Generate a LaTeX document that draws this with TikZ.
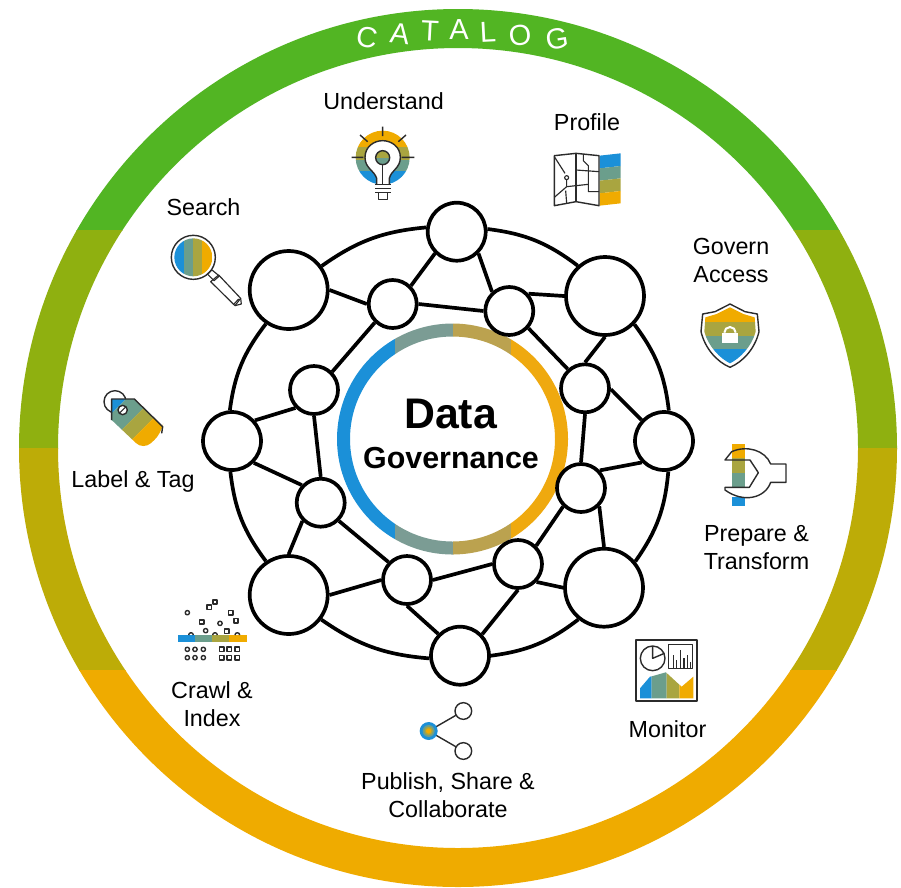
\documentclass[tikz,border=0pt]{standalone}
\usepackage{fontspec}
\setmainfont{Liberation Sans}
\definecolor{ringa}{HTML}{52B523}
\definecolor{ringb}{HTML}{8FB010}
\definecolor{ringc}{HTML}{BDAC07}
\definecolor{ringd}{HTML}{EFAB00}
\definecolor{cblue}{HTML}{1B90D8}
\definecolor{cteal}{HTML}{7B9C94}
\definecolor{colive}{HTML}{BBA24F}
\definecolor{corange}{HTML}{EFA90F}
\definecolor{iblue}{HTML}{1B90D8}
\definecolor{iteal}{HTML}{6B9E8C}
\definecolor{iolive}{HTML}{A9A540}
\definecolor{iorange}{HTML}{F0AB00}
\definecolor{iline}{HTML}{2B2B2B}
\tikzset{
  bignode/.style={circle,draw=black,fill=white,line width=1.3mm,minimum size=78pt,inner sep=0pt},
  midnode/.style={circle,draw=black,fill=white,line width=1.3mm,minimum size=58pt,inner sep=0pt},
  smallnode/.style={circle,draw=black,fill=white,line width=1.3mm,minimum size=48pt,inner sep=0pt},
  link/.style={draw=black,line width=1.3mm},
  lbl/.style={font=\fontsize{23.3}{28}\selectfont,align=center,text=black,inner sep=0pt},
  catletter/.style={font=\fontsize{29}{29}\selectfont,text=white,inner sep=0pt},
  icon/.style={draw=iline,line width=1.4pt,line join=round},
  thinicon/.style={draw=iline,line width=1.15pt,line join=round},
}
\newcommand{\ringband}[3]{\begin{scope}\clip (0,#1) rectangle (901,#2);
  \fill[#3,even odd rule] (458,448) circle[radius=439] (458,448) circle[radius=400];\end{scope}}
\newcommand{\coreband}[3]{\begin{scope}\clip (#1,300) rectangle (#2,580);
  \fill[#3,even odd rule] (452.5,439) circle[radius=115.5] (452.5,439) circle[radius=102.5];\end{scope}}
\begin{document}
\begin{tikzpicture}[x=1pt,y=-1pt]
\useasboundingbox (0,0) rectangle (901,887);
\fill[white] (0,0) rectangle (901,887);
% outer ring
\ringband{0}{230}{ringa}
\ringband{230}{448}{ringb}
\ringband{448}{670}{ringc}
\ringband{670}{887}{ringd}
% catalog letters
\node[catletter,rotate=-10] (c1) at (367,37) {C};
\node[catletter,rotate=-7] (c2) at (400,34) {A};
\node[catletter,rotate=-3] (c3) at (430,31) {T};
\node[catletter,rotate=0] (c4) at (459,30) {A};
\node[catletter,rotate=3] (c5) at (488,32) {L};
\node[catletter,rotate=6] (c6) at (520,35) {O};
\node[catletter,rotate=9] (c7) at (557,39) {G};
% core ring
\coreband{330}{395}{cblue}
\coreband{395}{453}{cteal}
\coreband{453}{511}{colive}
\coreband{511}{575}{corange}
\node[font=\bfseries\fontsize{42.8}{42.8}\selectfont,inner sep=0pt] (dt) at (450.5,414) {Data};
\node[font=\bfseries\fontsize{30.4}{30.4}\selectfont,inner sep=0pt] (gv) at (451,458) {Governance};
% network
\node[midnode] (top) at (456.7,231.7) {};
\node[bignode] (ul) at (288.7,290) {};
\node[bignode] (ur) at (605,296) {};
\node[midnode] (rt) at (664,441) {};
\node[bignode] (lr) at (604,587.7) {};
\node[midnode] (bt) at (460,655.7) {};
\node[bignode] (ll) at (288.7,595) {};
\node[midnode] (lf) at (232,441) {};
\node[smallnode] (a) at (392.7,304) {};
\node[smallnode] (b) at (509.3,311) {};
\node[smallnode] (c) at (585,388.3) {};
\node[smallnode] (d) at (581,488) {};
\node[smallnode] (e) at (518,564) {};
\node[smallnode] (f) at (407,580) {};
\node[smallnode] (g) at (320.7,502.7) {};
\node[smallnode] (h) at (314,390) {};
\path[link] (top.5) to[bend left=15] (ur.132);
\path[link] (ur.-44) to[bend left=15] (rt.81);
\path[link] (rt.-82) to[bend left=15] (lr.40);
\path[link] (lr.-129) to[bend left=15] (bt.0);
\path[link] (bt.-175) to[bend left=15] (ll.-37);
\path[link] (ll.124) to[bend left=15] (lf.-93);
\path[link] (lf.94) to[bend left=15] (ul.-124);
\path[link] (ul.36) to[bend left=15] (top.172);
\path[link] (a.180) -- (ul.0);
\path[link] (a.45) -- (top.-135);
\path[link] (a.0) -- (b.180);
\path[link] (a.-134) -- (h.45);
\path[link] (b.132) -- (top.-45);
\path[link] (b.42) -- (ur.180);
\path[link] (b.-42) -- (c.132);
\path[link] (c.90) -- (ur.-90);
\path[link] (c.-2) -- (rt.137);
\path[link] (c.-90) -- (d.90);
\path[link] (h.-136) -- (lf.42);
\path[link] (h.-90) -- (g.90);
\path[link] (g.137) -- (lf.-45);
\path[link] (g.-135) -- (ll.90);
\path[link] (g.-45) -- (f.136);
\path[link] (f.180) -- (ll.0);
\path[link] (f.0) -- (e.180);
\path[link] (f.-90) -- (bt.135);
\path[link] (e.45) -- (d.-134);
\path[link] (e.-44) -- (lr.180);
\path[link] (e.-90) -- (bt.44);
\path[link] (d.43) -- (rt.-136);
\path[link] (d.-45) -- (lr.90);
% labels
\begin{scope}
\clip (300,80) rectangle (470,108);
\node[lbl,anchor=base] (understand) at (383.5,109.5) {Understand};
\end{scope}
\node[lbl,anchor=base] (profile) at (587,130) {Profile};
\node[lbl,anchor=base] (search) at (203.5,215) {Search};
\node[lbl] (govern) at (731,260) {Govern\\Access};
\node[lbl,anchor=base] (labeltag) at (133,487) {Label \& Tag};
\node[lbl] (prepare) at (756.5,548) {Prepare \&\\Transform};
\node[lbl,anchor=base] (monitor) at (667.5,737) {Monitor};
\node[lbl] (crawl) at (212,704) {Crawl \&\\Index};
\node[lbl] (publish) at (448,795) {Publish, Share \&\\Collaborate};
% bulb icon
\begin{scope}[shift={(300,0)},scale=1/3]
\begin{scope}
\clip (248,473) circle[radius=81];
\fill[iorange] (160,385) rectangle (340,440);
\fill[iolive] (160,440) rectangle (340,480);
\fill[iteal] (160,480) rectangle (340,512);
\fill[iblue] (160,512) rectangle (340,560);
\end{scope}
\fill[white] (230,553) -- (230,535) .. controls (222,510) and (195,505) .. (195,472) .. controls (195,440) and (222,422) .. (248,422) .. controls (274,422) and (301,440) .. (301,472) .. controls (301,505) and (274,510) .. (268,535) -- (268,553) -- cycle;
\draw[icon] (230,553) -- (230,535) .. controls (222,510) and (195,505) .. (195,472) .. controls (195,440) and (222,422) .. (248,422) .. controls (274,422) and (301,440) .. (301,472) .. controls (301,505) and (274,510) .. (268,535) -- (268,553);
\begin{scope}\clip (248,473) circle[radius=21];
\fill[iolive] (225,450) rectangle (271,475);
\fill[iteal] (225,475) rectangle (271,496);
\end{scope}
\draw[icon] (248,473) circle[radius=21];
\draw[icon] (248,494) -- (248,553);
\draw[icon] (225,553) -- (272,553) (225,565) -- (272,565) (225,578) -- (272,578);
\draw[icon] (235,578) rectangle (262,598);
\draw[icon] (248,380) -- (248,408) (180,405) -- (203,425) (318,405) -- (295,425) (155,472) -- (190,472) (305,472) -- (343,472);
\end{scope}
% map icon
\begin{scope}[shift={(300,0)},scale=1/3]
\fill[iblue] (899,467) -- (962,460) -- (962,498) -- (899,505) -- cycle;
\fill[iteal] (899,505) -- (962,498) -- (962,535) -- (899,542) -- cycle;
\fill[iolive] (899,542) -- (962,535) -- (962,573) -- (899,580) -- cycle;
\fill[iorange] (899,580) -- (962,573) -- (962,610) -- (899,617) -- cycle;
\draw[icon] (897,467) -- (828,460) -- (763,467) -- (763,617) -- (828,605) -- (897,617) -- cycle;
\draw[thinicon] (828,460) -- (828,605);
\draw[thinicon] (850,462) -- (850,482) -- (865,497) -- (865,575) -- (897,575);
\draw[thinicon] (828,510) -- (897,515);
\draw[thinicon] (763,470) -- (795,520) (800,540) -- (800,560);
\draw[thinicon] (763,592) -- (800,560) -- (865,553);
\draw[thinicon] (797,572) -- (800,610);
\draw[thinicon] (800,533) circle[radius=6];
\end{scope}
% shield icon
\begin{scope}[shift={(680,290)},scale=1/3]
\begin{scope}
\clip (150,52) -- (190,72) -- (224,82) -- (227,125) .. controls (215,170) and (180,205) .. (150,220) .. controls (120,205) and (85,170) .. (73,125) -- (76,82) -- (110,72) -- cycle;
\fill[iorange] (60,40) rectangle (240,97);
\fill[iolive] (60,97) rectangle (240,138);
\fill[iteal] (60,138) rectangle (240,178);
\fill[iblue] (60,178) rectangle (240,225);
\end{scope}
\draw[icon] (150,42) -- (195,65) -- (232,72) -- (237,125) .. controls (225,175) and (190,215) .. (150,232) .. controls (110,215) and (75,175) .. (63,125) -- (68,72) -- (105,65) -- cycle;
\fill[white] (125,128) rectangle (175,160);
\draw[white,line width=2pt] (133,128) arc[start angle=180,end angle=360,radius=17];
\end{scope}
% wrench icon
\begin{scope}[shift={(680,290)},scale=1/3]
\fill[iorange] (155,462) rectangle (195,505);
\fill[iolive] (155,505) rectangle (195,548);
\fill[iteal] (155,548) rectangle (195,592);
\fill[iblue] (155,620) rectangle (195,648);
\draw[icon] (210,510) -- (135,510) -- (155,485) .. controls (200,465) and (255,480) .. (272,522) -- (318,522) -- (318,577) -- (272,577) .. controls (255,625) and (190,640) .. (135,600) -- (135,592) -- (208,592) -- (235,548) -- cycle;
\end{scope}
% magnifier icon
\begin{scope}[shift={(90,220)},scale=1/3]
\begin{scope}
\clip (310,112) circle[radius=57];
\fill[iblue] (250,50) rectangle (283,175);
\fill[iteal] (283,50) rectangle (310,175);
\fill[iolive] (310,50) rectangle (337,175);
\fill[iorange] (337,50) rectangle (370,175);
\end{scope}
\draw[icon] (310,112) circle[radius=66];
\draw[thinicon] (352,162) -- (366,150) -- (388,168) -- (372,182) -- cycle;
\draw[thinicon] (386,165) -- (452,235) -- (435,257) -- (362,185) -- cycle;
\draw[thinicon] (432,252) -- (446,237) (452,235) -- (454,252) -- (435,257);
\end{scope}
% tag icon
\begin{scope}[shift={(90,220)},scale=1/3]
\draw[icon] (75,545) circle[radius=33];
\begin{scope}
\clip (65,537) -- (133,537) -- (218,620) [rounded corners=10] -- (215,640) -- (160,690) [sharp corners] -- (65,600) -- cycle;
\fill[iblue] (65,537) -- (108,537) -- (65,580) -- cycle;
\fill[iteal] (108,537) -- (188,537) -- (65,660) -- (65,580) -- cycle;
\fill[iolive] (188,537) -- (248,537) -- (65,720) -- (65,660) -- cycle;
\fill[iorange] (248,537) -- (360,537) -- (100,800) -- (65,720) -- cycle;
\end{scope}
\draw[icon] (65,600) -- (65,537) -- (133,537) -- (218,620) -- (215,640);
\draw[icon,fill=white] (98,570) circle[radius=14];
\draw[thinicon] (88,580) -- (108,560);
\end{scope}
% crawl icon
\begin{scope}[shift={(160,590)},scale=1/3]
\fill[iblue] (55,135) rectangle (105,155);
\fill[iteal] (105,135) rectangle (157,155);
\fill[iolive] (157,135) rectangle (208,155);
\fill[iorange] (208,135) rectangle (260,155);
\foreach \cx/\cy in {82/68,137/122,180/100,82/178,105/178,130/178,82/203,105/203,130/203}
  \draw[icon] (\cx,\cy) circle[radius=6.5];
\foreach \cx in {93,165,232}
  \draw[icon] (\cx-7,135) arc[start angle=180,end angle=360,radius=7];
\foreach \cx/\cy in {165/36,148/52,212/68,125/96,228/92,200/124,185/178,208/178,232/178,185/203,208/203,232/203}
  \draw[icon] (\cx-6.5,\cy-6.5) rectangle (\cx+6.5,\cy+6.5);
\end{scope}
% share icon
\begin{scope}[shift={(400,630)},scale=1/3]
\draw[icon] (86,303) -- (190,243) (86,303) -- (190,363);
\draw[icon,fill=white] (190,243) circle[radius=25];
\draw[icon,fill=white] (190,363) circle[radius=25];
\fill[iblue] (86,303) circle[radius=27];
\fill[iteal] (86,303) circle[radius=18];
\fill[iolive] (86,303) circle[radius=13];
\fill[iorange] (86,303) circle[radius=8];
\end{scope}
% monitor icon
\begin{scope}[shift={(400,630)},scale=1/3]
\draw[icon,line width=1.7pt] (708,30) rectangle (890,213);
\begin{scope}
\clip (720,120) rectangle (880,205);
\fill[iblue] (720,205) -- (720,175) -- (750,140) -- (755,139) -- (755,205) -- cycle;
\fill[iteal] (755,205) -- (755,139) -- (797,127) -- (800,129) -- (800,205) -- cycle;
\fill[iolive] (800,205) -- (800,129) -- (838,164) -- (838,205) -- cycle;
\fill[iorange] (838,205) -- (838,164) -- (845,170) -- (880,140) -- (880,205) -- cycle;
\end{scope}
\draw[icon] (758,85) circle[radius=37];
\draw[icon] (758,48) -- (758,85) -- (793,70);
\draw[icon] (805,43) rectangle (878,115);
\draw[thinicon] (820,115) -- (820,75) (830,115) -- (830,90) (841,115) -- (841,60) (852,115) -- (852,85) (862,115) -- (862,75) (872,115) -- (872,95);
\end{scope}
\end{tikzpicture}
\end{document}
